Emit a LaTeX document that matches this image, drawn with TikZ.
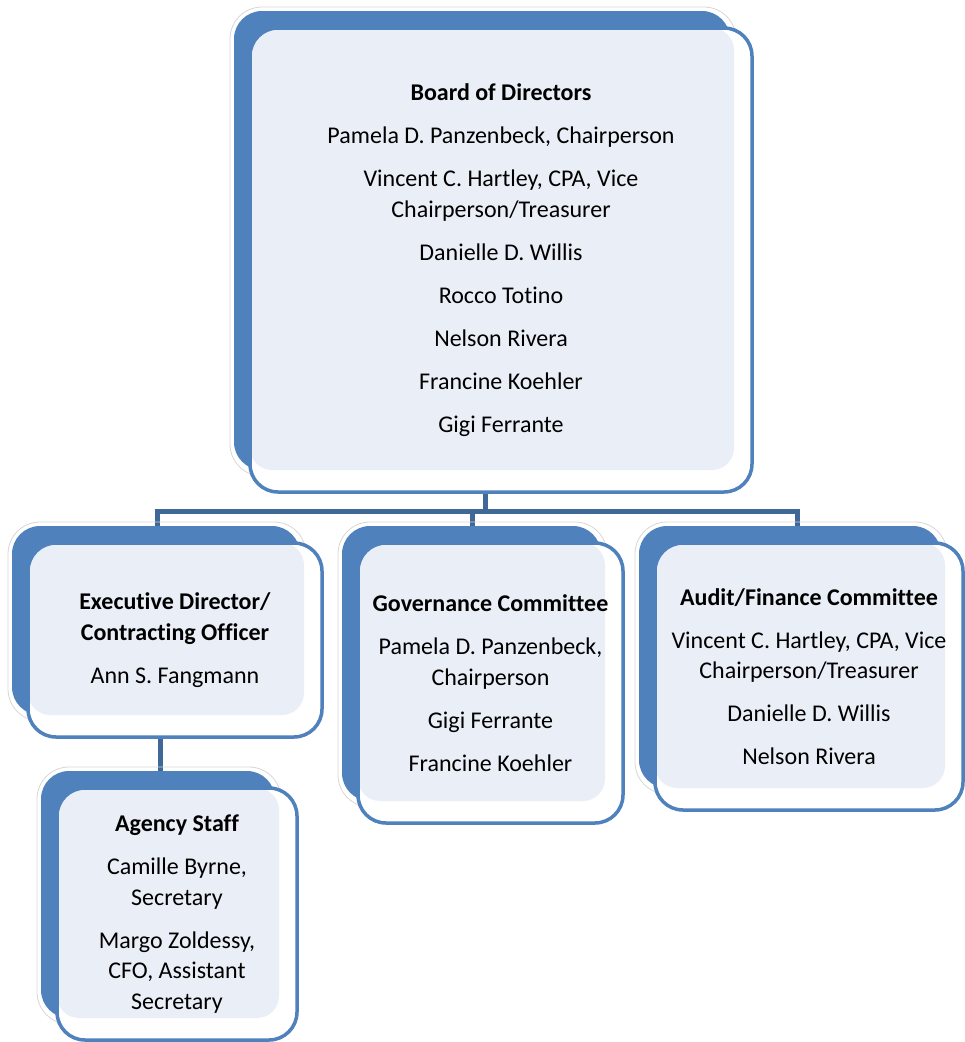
\documentclass[tikz,border=0pt]{standalone}
\usepackage{fontspec}
\setmainfont{Carlito}[Ligatures=NoCommon]
\definecolor{backblue}{HTML}{4F81BD}
\definecolor{lightfill}{HTML}{EAEFF7}
\definecolor{connblue}{HTML}{3F6798}
\definecolor{glowgray}{HTML}{D6D6D6}
\tikzset{
  conn/.style={draw=connblue, line width=5pt},
  backbox/.style={fill=backblue, rounded corners=28pt},
  glowline/.style={draw=glowgray, line width=0.8pt, rounded corners=32pt},
  frontbox/.style={rectangle, rounded corners=28pt, fill=white, draw=backblue,
    line width=3.5pt, inner sep=0pt, outer sep=0pt, align=center,
    font=\fontsize{24}{30.5}\selectfont,
    path picture={\fill[lightfill, rounded corners=22pt]
      (path picture bounding box.north west) rectangle
      ([xshift=-18pt,yshift=22pt]path picture bounding box.south east);}}
}
\newcommand\orgbox[6]{%
  \draw[glowline] (#2-20,#3-21) rectangle (#4-16,#5-16);
  \fill[backbox] (#2-16,#3-17) rectangle (#4-22,#5-22);
  \node[frontbox, minimum width={#4-#2}, minimum height={#5-#3}] (#1)
    at ({(#2+#4)/2},{(#3+#5)/2}) {#6};
}
\begin{document}
\begin{tikzpicture}[x=1pt,y=-1pt]
\useasboundingbox (0,0) rectangle (965,1042);
% connectors (behind boxes)
\coordinate (busL) at (157,511);
\coordinate (busR) at (797,511);
\coordinate (busB) at (485,511);
\coordinate (busG) at (472,511);
\coordinate (ea) at (160,760);
\draw[conn] ([xshift=-2.5pt]busL) -- ([xshift=2.5pt]busR);
\draw[conn] (busB) -- (busB |- 0,480);
\draw[conn] (busL) -- (busL |- 0,540);
\draw[conn] (busG) -- (busG |- 0,540);
\draw[conn] (busR) -- (busR |- 0,540);
\draw[conn] (ea |- 0,720) -- (ea |- 0,785);
% boxes
\orgbox{board}{250}{28}{752}{492}{\textbf{Board of Directors}\\[12.5pt]
  Pamela D. Panzenbeck, Chairperson\\[12.5pt]
  Vincent C. Hartley, CPA, Vice\\ Chairperson/Treasurer\\[12.5pt]
  Danielle D. Willis\\[12.5pt]
  Rocco Totino\\[12.5pt]
  Nelson Rivera\\[12.5pt]
  Francine Koehler\\[12.5pt]
  Gigi Ferrante}
\orgbox{exec}{28}{543}{322}{737}{\textbf{Executive Director/}\\
  \textbf{Contracting Officer}\\[12.5pt]
  Ann S. Fangmann}
\orgbox{gov}{358}{543}{623}{823}{\textbf{Governance Committee}\\[12.5pt]
  Pamela D. Panzenbeck,\\ Chairperson\\[12.5pt]
  Gigi Ferrante\\[12.5pt]
  Francine Koehler}
\orgbox{audit}{655}{543}{963}{810}{\textbf{Audit/Finance Committee}\\[12.5pt]
  Vincent C. Hartley, CPA, Vice\\ Chairperson/Treasurer\\[12.5pt]
  Danielle D. Willis\\[12.5pt]
  Nelson Rivera}
\orgbox{agency}{57}{788}{297}{1040}{\textbf{Agency Staff}\\[12.5pt]
  Camille Byrne,\\ Secretary\\[12.5pt]
  Margo Zoldessy,\\ CFO, Assistant\\ Secretary}
\end{tikzpicture}
\end{document}
